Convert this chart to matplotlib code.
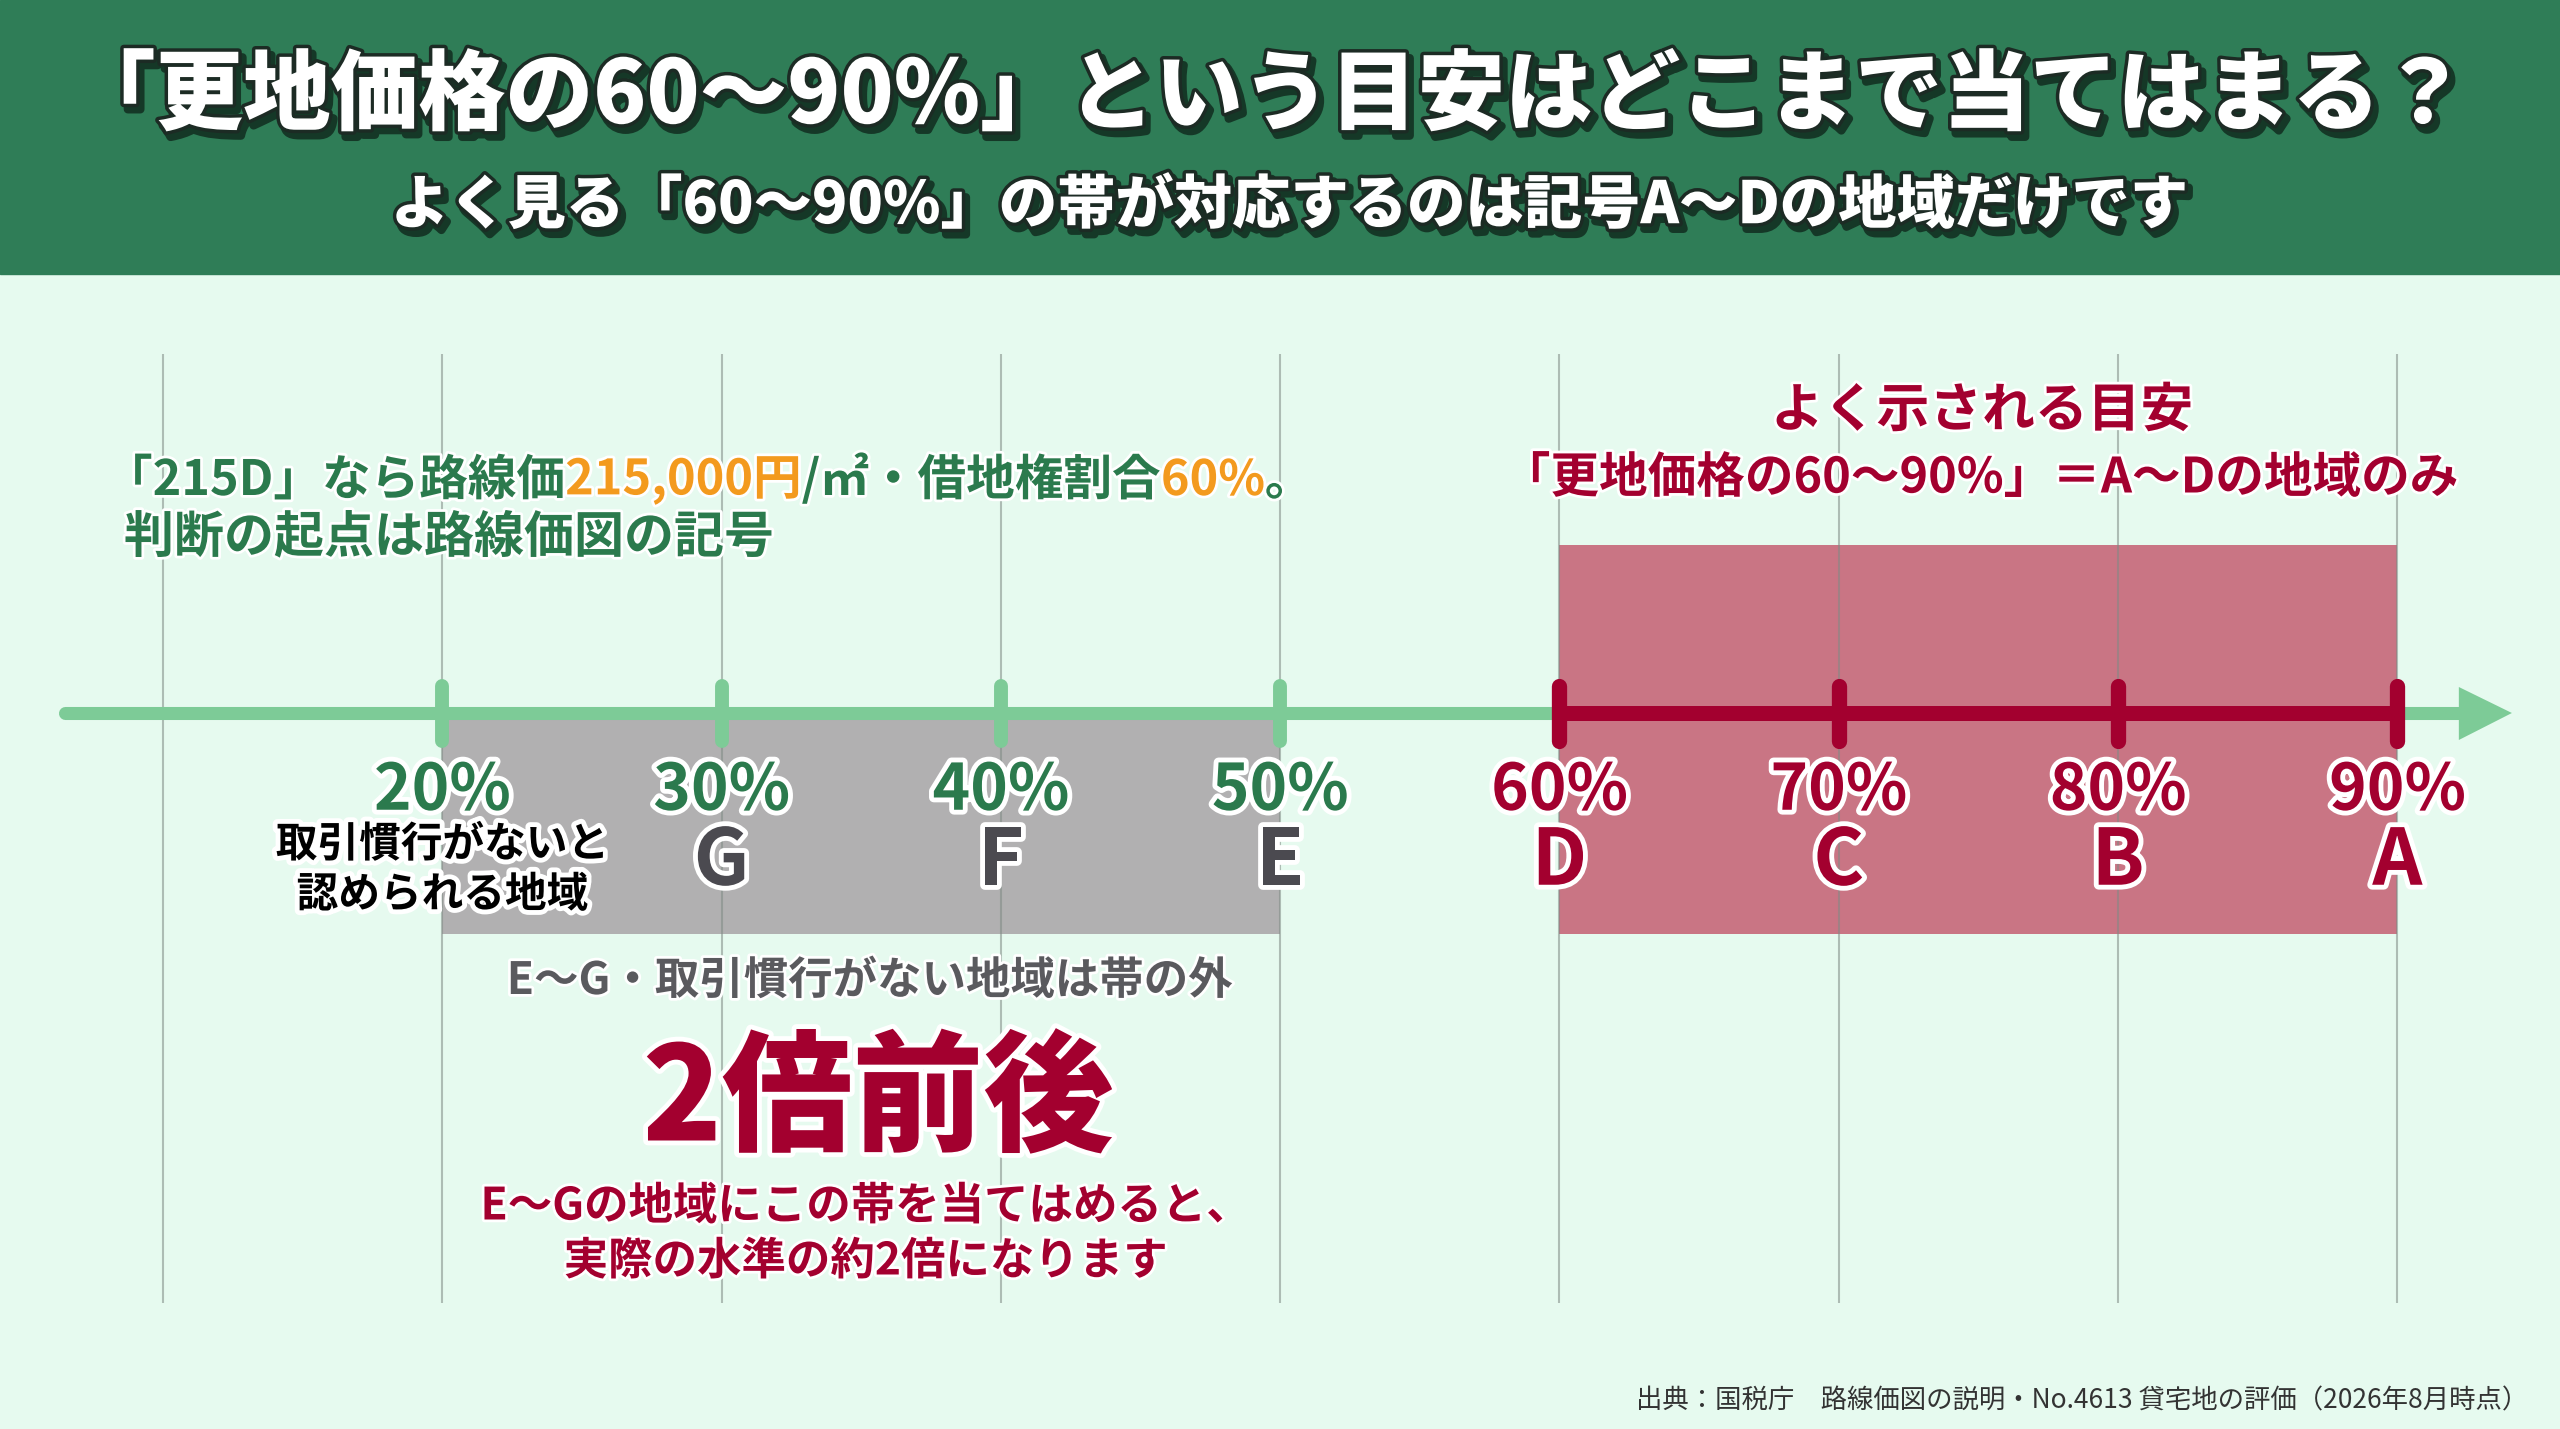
import matplotlib
matplotlib.use("Agg")
import matplotlib.pyplot as plt
import matplotlib.patheffects as pe
from matplotlib.patches import Rectangle

plt.rcParams['font.family'] = ['Noto Sans CJK JP', 'DejaVu Sans']

# --- data -----------------------------------------------------------------
grid_pcts = [10, 20, 30, 40, 50, 60, 70, 80, 90]
outside_pcts = [20, 30, 40, 50]
outside_symbols = ['', 'G', 'F', 'E']
band_pcts = [60, 70, 80, 90]
band_symbols = ['D', 'C', 'B', 'A']
outside_range = (20, 50)
band_range = (60, 90)

title = "「更地価格の60〜90%」という目安はどこまで当てはまる？"
subtitle = "よく見る「60〜90%」の帯が対応するのは記号A〜Dの地域だけです"
note_parts = [("「215D」なら路線価", 'g'), ("215,000円", 'o'), ("/㎡・借地権割合", 'g'),
              ("60%", 'o'), ("。", 'g')]
note_line2 = "判断の起点は路線価図の記号"
band_title = "よく示される目安"
band_sub = "「更地価格の60〜90%」＝A〜Dの地域のみ"
no_custom = "取引慣行がないと\n認められる地域"
outside_note = "E〜G・取引慣行がない地域は帯の外"
big_note = "2倍前後"
big_sub = "E〜Gの地域にこの帯を当てはめると、\n実際の水準の約2倍になります"
source = "出典：国税庁　路線価図の説明・No.4613 貸宅地の評価（2026年8月時点）"

# --- style ----------------------------------------------------------------
BG = '#e6faef'
HEADER = '#2f7d57'
GREEN_TXT = '#2b7a4d'
ORANGE = '#f39a1e'
RED = '#a3002f'
AXIS_GREEN = '#7dcb97'
GRAY_RECT = '#b1b0b1'
RED_RECT = '#c97584'
LETTER_GRAY = '#4b4a50'
GRAY_TXT = '#5a5a5e'

W, H = 2560, 1429
fig = plt.figure(figsize=(W / 100, H / 100), dpi=100, facecolor=BG)
ax = fig.add_axes([0, 0, 1, 1])
ax.set_facecolor(BG)
# x in percent, y in pixels from top
px_per_pct = 27.93
x0_px = 163
ax.set_xlim(10 - x0_px / px_per_pct, 10 + (W - x0_px) / px_per_pct)
ax.set_ylim(H, 0)
ax.axis('off')

white_halo = [pe.Stroke(linewidth=7, foreground='white'), pe.Normal()]
soft_halo = [pe.Stroke(linewidth=4, foreground='white'), pe.Normal()]


def put(px, py, s, **kw):
    return fig.text(px / W, 1 - py / H, s, **kw)


# header
ax.axhspan(0, 274, color=HEADER, zorder=0)
shadow = [pe.SimpleLineShadow(offset=(3, -4), shadow_color='black', alpha=0.55, linewidth=6),
          pe.Stroke(linewidth=5, foreground='#1c2b24'), pe.Normal()]
put(1268, 97, title, ha='center', va='center', fontsize=63, weight='heavy',
    color='white', path_effects=shadow)
put(1290, 206, subtitle, ha='center', va='center', fontsize=42, weight='heavy',
    color='white', path_effects=shadow)

# rectangles
ax.add_patch(Rectangle((outside_range[0], 720), outside_range[1] - outside_range[0], 214,
                       color=GRAY_RECT, zorder=1, lw=0))
ax.add_patch(Rectangle((band_range[0], 545), band_range[1] - band_range[0], 389,
                       color=RED_RECT, zorder=1, lw=0))

# grid lines
ax.vlines(grid_pcts, 354, 1303, color='#7f8a84', alpha=0.55, lw=1.5, zorder=2)

# axis line + arrow
ax_y = 713
ax.plot([6.5, 92.3], [ax_y, ax_y], color=AXIS_GREEN, lw=9.4, solid_capstyle='round', zorder=3)
ax.fill([92.2, 92.2, 94.1], [687, 740, ax_y], color=AXIS_GREEN, lw=0, zorder=3)
ax.plot(list(band_range), [ax_y, ax_y], color=RED, lw=10.8, solid_capstyle='butt', zorder=4)
ax.vlines(outside_pcts, 686, 741, color=AXIS_GREEN, lw=10, capstyle='round', zorder=4)
ax.vlines(band_pcts, 686, 741, color=RED, lw=11, capstyle='round', zorder=5)

# tick labels
for p, s in zip(outside_pcts, outside_symbols):
    ax.text(p, 791, f"{p}%", ha='center', va='center', fontsize=46, weight='bold',
            color=GREEN_TXT, path_effects=white_halo, zorder=6)
    if s:
        ax.text(p, 862, s, ha='center', va='center', fontsize=56, weight='bold',
                color=LETTER_GRAY, path_effects=white_halo, zorder=6)
for p, s in zip(band_pcts, band_symbols):
    ax.text(p, 791, f"{p}%", ha='center', va='center', fontsize=46, weight='bold',
            color=RED, path_effects=white_halo, zorder=6)
    ax.text(p, 862, s, ha='center', va='center', fontsize=56, weight='bold',
            color=RED, path_effects=white_halo, zorder=6)

ax.text(outside_range[0], 870, no_custom, ha='center', va='center', fontsize=30,
        weight='bold', color='black', linespacing=1.25, path_effects=white_halo, zorder=6)

# top-left note with coloured parts
prev = put(104, 495, note_parts[0][0], ha='left', va='baseline', fontsize=35,
           weight='bold', color=GREEN_TXT, path_effects=soft_halo)
for txt, c in note_parts[1:]:
    prev = ax.annotate(txt, xy=(1, 0), xycoords=prev, ha='left', va='bottom',
                       fontsize=35, weight='bold',
                       color=ORANGE if c == 'o' else GREEN_TXT, path_effects=soft_halo)
put(124, 538, note_line2, ha='left', va='center', fontsize=36, weight='bold',
    color=GREEN_TXT, path_effects=soft_halo)

# band caption
put(1982, 411, band_title, ha='center', va='center', fontsize=38, weight='bold',
    color=RED, path_effects=soft_halo)
put(1980, 478, band_sub, ha='center', va='center', fontsize=35, weight='bold',
    color=RED, path_effects=soft_halo)

# bottom notes
put(870, 981, outside_note, ha='center', va='center', fontsize=32, weight='bold',
    color=GRAY_TXT, path_effects=soft_halo)
put(878, 1102, big_note, ha='center', va='center', fontsize=94, weight='heavy',
    color=RED, path_effects=white_halo)
put(866, 1234, big_sub, ha='center', va='center', fontsize=32, weight='bold',
    color=RED, linespacing=1.25, path_effects=soft_halo)

put(2528, 1401, source, ha='right', va='center', fontsize=19, color='#333333')

fig.savefig('out.png', dpi=100, facecolor=BG)
